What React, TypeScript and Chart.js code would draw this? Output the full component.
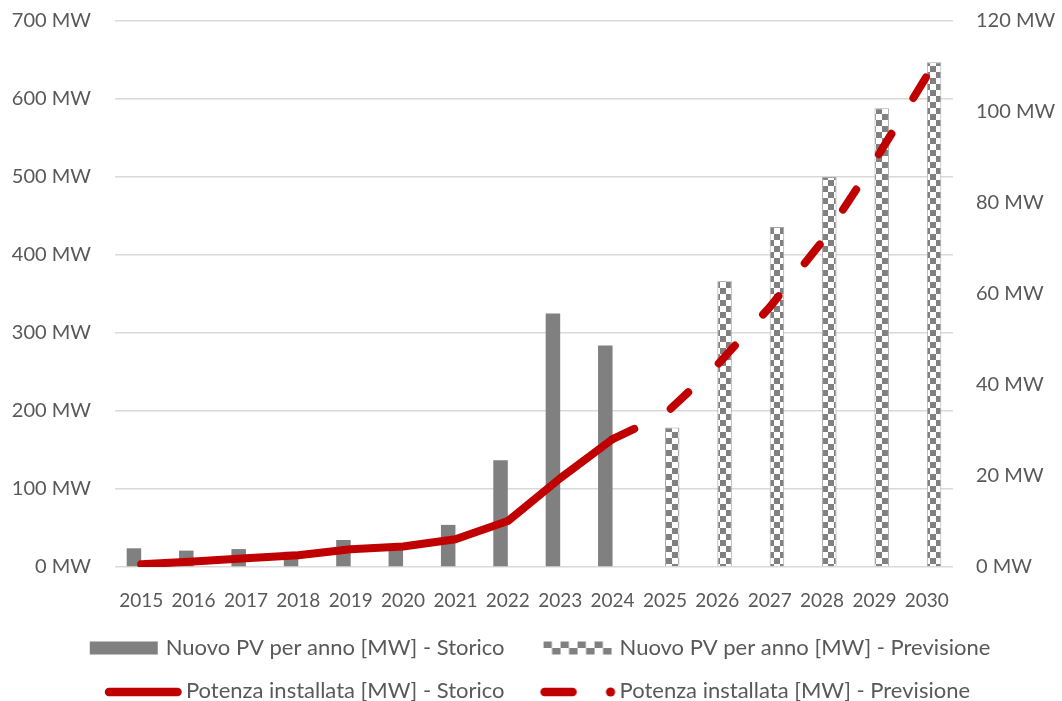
import React, { useEffect, useRef } from "react";
import { Chart, registerables } from "chart.js";

Chart.register(...registerables);

// ---------- data ----------
const years = ["2015", "2016", "2017", "2018", "2019", "2020", "2021", "2022", "2023", "2024", "2025", "2026", "2027", "2028", "2029", "2030"];
const newPvHistoric = [24, 21, 23, 19.6, 34.6, 23, 54, 137, 325, 284, null, null, null, null, null, null];
const newPvForecast = [null, null, null, null, null, null, null, null, null, null, 179, 367, 436, 500, 588, 647];
const installedHistoric = [0.6, 1.2, 1.9, 2.6, 3.9, 4.5, 6.1, 10.1, 19.5, 28.1, null, null, null, null, null, null];
const installedForecast = [null, null, null, null, null, null, null, null, null, 28.1, 33.6, 44.4, 57.1, 71.5, 89.1, 107.9];

const leftAxisMax = 700;
const leftAxisStep = 100;
const rightAxisMax = 120;
const rightAxisStep = 20;

const legendTexts = [
  "Nuovo PV per anno [MW] - Storico",
  "Nuovo PV per anno [MW] - Previsione",
  "Potenza installata [MW] - Storico",
  "Potenza installata [MW] - Previsione",
];

// ---------- styles ----------
const GRAY = "#808080";
const RED = "#C00000";
const TEXT = "#595959";
const GRID = "#D9D9D9";
const CLEAR = "rgba(0,0,0,0)";
const FONT = "Lato";

function makeChecker(size: number): HTMLCanvasElement {
  const c = document.createElement("canvas");
  c.width = size * 2;
  c.height = size * 2;
  const ctx = c.getContext("2d")!;
  ctx.fillStyle = "#ffffff";
  ctx.fillRect(0, 0, size * 2, size * 2);
  ctx.fillStyle = GRAY;
  ctx.fillRect(0, 0, size, size);
  ctx.fillRect(size, size, size, size);
  return c;
}

function makeSample(kind: number): HTMLCanvasElement {
  const W = 105;
  const H = 22;
  const c = document.createElement("canvas");
  c.width = W;
  c.height = H;
  const ctx = c.getContext("2d")!;
  const cy = H / 2;
  if (kind === 0) {
    ctx.fillStyle = GRAY;
    ctx.fillRect(29, cy - 6.5, 68, 13);
  } else if (kind === 1) {
    const sw = 8.5;
    const sh = 6.5;
    const x0 = 29;
    const x1 = 97;
    let col = 0;
    for (let x = x0; x < x1; x += sw, col++) {
      const w = Math.min(sw, x1 - x);
      ctx.fillStyle = col % 2 === 0 ? GRAY : "#ffffff";
      ctx.fillRect(x, cy - sh, w, sh);
      ctx.fillStyle = col % 2 === 0 ? "#ffffff" : GRAY;
      ctx.fillRect(x, cy, w, sh);
    }
  } else if (kind === 2) {
    ctx.strokeStyle = RED;
    ctx.lineWidth = 8.5;
    ctx.lineCap = "round";
    ctx.beginPath();
    ctx.moveTo(28, cy + 1);
    ctx.lineTo(96.5, cy + 1);
    ctx.stroke();
  } else {
    ctx.strokeStyle = RED;
    ctx.lineWidth = 8.5;
    ctx.lineCap = "round";
    ctx.beginPath();
    ctx.moveTo(30, cy + 1);
    ctx.lineTo(58, cy + 1);
    ctx.stroke();
    ctx.fillStyle = RED;
    ctx.beginPath();
    ctx.arc(96, cy + 1, 4.6, 0, Math.PI * 2);
    ctx.fill();
  }
  return c;
}

export default function App() {
  const canvasRef = useRef<HTMLCanvasElement | null>(null);

  useEffect(() => {
    const canvas = canvasRef.current;
    if (!canvas) return;
    const ctx = canvas.getContext("2d")!;
    const pattern = ctx.createPattern(makeChecker(6), "repeat")!;
    const samples = [0, 1, 2, 3].map(makeSample);

    const chart = new Chart(canvas, {
      type: "bar",
      data: {
        labels: years,
        datasets: [
          {
            type: "bar",
            label: legendTexts[0],
            data: newPvHistoric,
            backgroundColor: GRAY,
            borderWidth: 0,
            yAxisID: "y",
            order: 2,
            categoryPercentage: 0.554,
            barPercentage: 1,
          },
          {
            type: "bar",
            label: legendTexts[1],
            data: newPvForecast,
            backgroundColor: pattern as any,
            borderColor: "#A6A6A6",
            borderWidth: 1,
            yAxisID: "y",
            order: 2,
            categoryPercentage: 0.554,
            barPercentage: 1,
          },
          {
            type: "line",
            label: legendTexts[2],
            data: installedHistoric,
            borderColor: RED,
            backgroundColor: RED,
            borderWidth: 8,
            borderCapStyle: "round",
            borderJoinStyle: "round",
            pointRadius: 0,
            tension: 0,
            fill: false,
            yAxisID: "y1",
            order: 1,
          },
          {
            type: "line",
            label: legendTexts[3],
            data: installedForecast,
            borderColor: RED,
            backgroundColor: RED,
            borderWidth: 8,
            borderDash: [24, 42],
            borderCapStyle: "round",
            borderJoinStyle: "round",
            pointRadius: 0,
            tension: 0,
            fill: false,
            yAxisID: "y1",
            order: 1,
          },
        ],
      },
      options: {
        responsive: false,
        animation: false,
        events: [],
        layout: { padding: { top: 21, left: 0, right: 0, bottom: 0 } },
        plugins: {
          legend: {
            position: "bottom",
            maxHeight: 85,
            labels: {
              usePointStyle: true,
              pointStyleWidth: 83,
              padding: 21,
              color: TEXT,
              font: { family: FONT, size: 22 },
              generateLabels: () =>
                legendTexts.map((t, i) => ({
                  text: t,
                  pointStyle: samples[i] as any,
                  fillStyle: CLEAR,
                  strokeStyle: CLEAR,
                  lineWidth: 0,
                  hidden: false,
                  datasetIndex: i,
                  fontColor: TEXT,
                })),
            },
          },
          tooltip: { enabled: false },
          title: { display: false },
        },
        scales: {
          x: {
            offset: true,
            grid: { display: false, drawTicks: false },
            border: { display: false },
            ticks: {
              color: TEXT,
              font: { family: FONT, size: 19 },
              padding: 22,
              maxRotation: 0,
              autoSkip: false,
            },
            afterFit: (s: any) => {
              s.height = 49;
            },
          },
          y: {
            position: "left",
            min: 0,
            max: leftAxisMax,
            grid: { color: GRID, lineWidth: 1.5, drawTicks: true, tickLength: 24, tickColor: CLEAR },
            border: { display: false },
            ticks: {
              stepSize: leftAxisStep,
              color: TEXT,
              font: { family: FONT, size: 20 },
              padding: 0,
              callback: (v: any) => `${v} MW`,
            },
            afterFit: (s: any) => {
              s.width = 115;
            },
          },
          y1: {
            position: "right",
            min: 0,
            max: rightAxisMax,
            grid: { display: true, drawOnChartArea: false, color: CLEAR, drawTicks: true, tickLength: 23, tickColor: CLEAR },
            border: { display: false },
            ticks: {
              stepSize: rightAxisStep,
              color: TEXT,
              font: { family: FONT, size: 20 },
              padding: 0,
              callback: (v: any) => `${v} MW`,
            },
            afterFit: (s: any) => {
              s.width = 109;
            },
          },
        },
      } as any,
    });

    return () => {
      chart.destroy();
    };
  }, []);

  return (
    <div style={{ position: "absolute", left: 0, top: 0, width: 1062, height: 701, background: "#ffffff" }}>
      <canvas ref={canvasRef} width={1062} height={701} style={{ display: "block", width: 1062, height: 701 }} />
    </div>
  );
}
